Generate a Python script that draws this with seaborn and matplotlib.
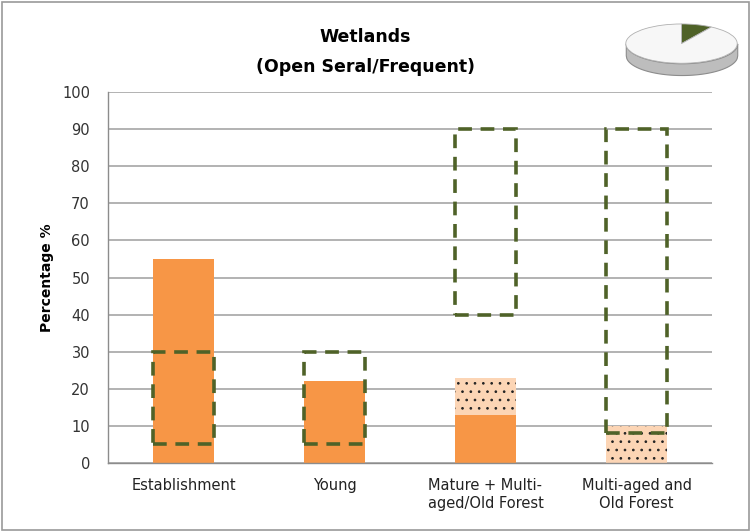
import numpy as np
import pandas as pd
import matplotlib
matplotlib.use("Agg")
import matplotlib.pyplot as plt
import seaborn as sns
from matplotlib.patches import Rectangle

# Data
categories = ["Establishment", "Young", "Mature + Multi-\naged/Old Forest", "Multi-aged and\nOld Forest"]
current_solid = [55, 22, 13, 0]      # solid orange part
current_total = [55, 22, 23, 10]     # solid + dotted part
range_low = [5, 5, 40, 8]            # dashed box bottom
range_high = [30, 30, 90, 90]        # dashed box top
pie_share = [9, 91]                  # little pie icon

sns.set_style("white")
plt.rcParams['font.family'] = ['DejaVu Sans']
plt.rcParams['hatch.linewidth'] = 0.7

df = pd.DataFrame({"cat": categories, "solid": current_solid, "total": current_total})

fig = plt.figure(figsize=(7.53, 5.32), dpi=100)
ax = fig.add_axes([108/753, 1-463/532, 604/753, 371/532])

# dotted part first (full height), solid drawn on top
sns.barplot(data=df, x="cat", y="total", color="#FCD5B5", width=0.4,
            hatch="..", edgecolor="#222222", linewidth=0, errorbar=None,
            saturation=1, ax=ax)
sns.barplot(data=df, x="cat", y="solid", color="#F79646", width=0.4,
            edgecolor="#F79646", linewidth=0, errorbar=None,
            saturation=1, ax=ax)

# dashed range boxes
bw = 0.4
for i, (lo, hi) in enumerate(zip(range_low, range_high)):
    ax.add_patch(Rectangle((i - bw/2, lo), bw, hi - lo, fill=False,
                           edgecolor="#4F6228", linewidth=2.6,
                           linestyle=(0, (3.8, 2.4)), zorder=5))

ax.set_xlim(-0.5, 3.5)
ax.set_ylim(0, 100)
ax.set_yticks(range(0, 101, 10))
ax.yaxis.grid(True, color="#A6A6A6", linewidth=1.2)
ax.set_axisbelow(True)
for s in ["top", "right"]:
    ax.spines[s].set_visible(False)
for s in ["left", "bottom"]:
    ax.spines[s].set_color("#8C8C8C")
    ax.spines[s].set_linewidth(1.0)
ax.tick_params(axis="y", length=0, pad=13, labelsize=10.5, labelcolor="#333333")
ax.tick_params(axis="x", length=0, pad=11, labelsize=10.5, labelcolor="#222222")
ax.set_xlabel("")
ax.set_ylabel("Percentage %", fontsize=10, fontweight="bold", labelpad=6, color="black")

fig.text(365/753, 1-37/532, "Wetlands", ha="center", va="center",
         fontsize=12.5, fontweight="bold", color="black")
fig.text(365/753, 1-67/532, "(Open Seral/Frequent)", ha="center", va="center",
         fontsize=12.5, fontweight="bold", color="black")

# little 3D-looking pie icon
pax = fig.add_axes([623/753, 1-77/532, 117/753, 55/532])
xs = np.linspace(-1, 1, 200)
ylow = -np.sqrt(1 - xs**2)
pax.fill_between(xs, ylow - 0.6, ylow, color="#BDBDBD", edgecolor="#8C8C8C", linewidth=0.8)
pax.pie(pie_share, colors=["#4F6228", "#F7F7F7"], startangle=90, counterclock=False,
        wedgeprops=dict(edgecolor="#B0B0B0", linewidth=0.6))
pax.set_aspect("auto")
pax.set_xlim(-1.05, 1.05)
pax.set_ylim(-1.7, 1.1)
pax.axis("off")

# outer frame
fig.add_artist(Rectangle((2/753, 2/532), 747/753, 528/532, transform=fig.transFigure,
                         fill=False, edgecolor="#9A9A9A", linewidth=1.2))

fig.savefig("out.png", dpi=100)
